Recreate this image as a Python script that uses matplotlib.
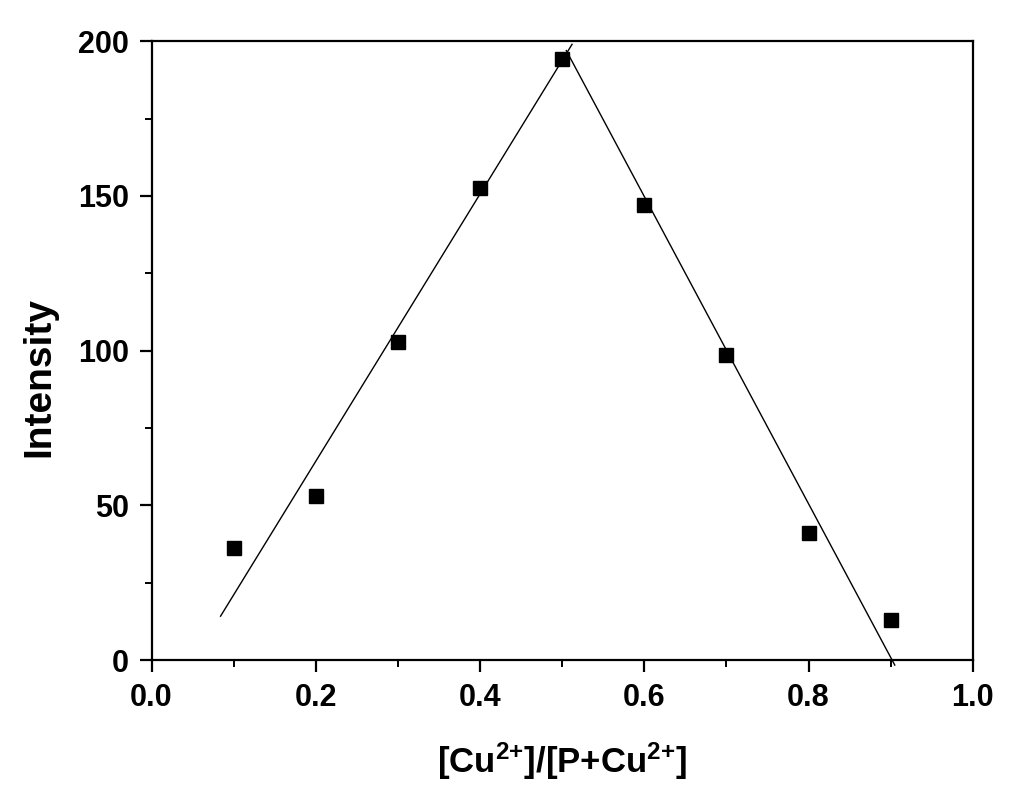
import numpy as np
import matplotlib
matplotlib.use("Agg")
import matplotlib.pyplot as plt
from matplotlib.ticker import MultipleLocator

# Job plot data
ratio = [0.1, 0.2, 0.3, 0.4, 0.5, 0.6, 0.7, 0.8, 0.9]
intensity = [36.2, 53.1, 102.8, 152.6, 194.3, 147.0, 98.7, 41.0, 12.9]

# linear fits (endpoints)
fit1_x = [0.084, 0.512]
fit1_y = [14.2, 199.0]
fit2_x = [0.505, 0.905]
fit2_y = [197.0, -1.6]

plt.rcParams["font.family"] = "Liberation Sans"
plt.rcParams["font.weight"] = "bold"
plt.rcParams["mathtext.fontset"] = "custom"
plt.rcParams["mathtext.rm"] = "Liberation Sans:bold"
plt.rcParams["mathtext.default"] = "rm"

fig = plt.figure(figsize=(10.24, 8.09), dpi=100)
ax = fig.add_axes([0.148, 0.184, 0.802, 0.765])

ax.plot(fit1_x, fit1_y, "k-", lw=1.0, clip_on=False)
ax.plot(fit2_x, fit2_y, "k-", lw=1.0, clip_on=False)
ax.plot(ratio, intensity, "ks", ms=9.5, zorder=3)

ax.set_xlim(0.0, 1.0)
ax.set_ylim(0, 200)
ax.xaxis.set_major_locator(MultipleLocator(0.2))
ax.xaxis.set_minor_locator(MultipleLocator(0.1))
ax.yaxis.set_major_locator(MultipleLocator(50))
ax.yaxis.set_minor_locator(MultipleLocator(25))
ax.set_xticklabels([f"{v:.1f}" for v in ax.get_xticks()])

for s in ax.spines.values():
    s.set_linewidth(1.6)
ax.tick_params(which="major", direction="out", length=8.5, width=1.6,
               labelsize=22, pad=8)
ax.tick_params(which="minor", direction="out", length=5, width=1.4)

ax.set_xlabel(r"[Cu$^{2{+}}$]/[P+Cu$^{2{+}}$]", fontsize=25, fontweight="bold",
              labelpad=20)
ax.set_ylabel("Intensity", fontsize=28, fontweight="bold")
ax.yaxis.set_label_coords(-0.115, 0.457)

fig.savefig("out.png", dpi=100)
